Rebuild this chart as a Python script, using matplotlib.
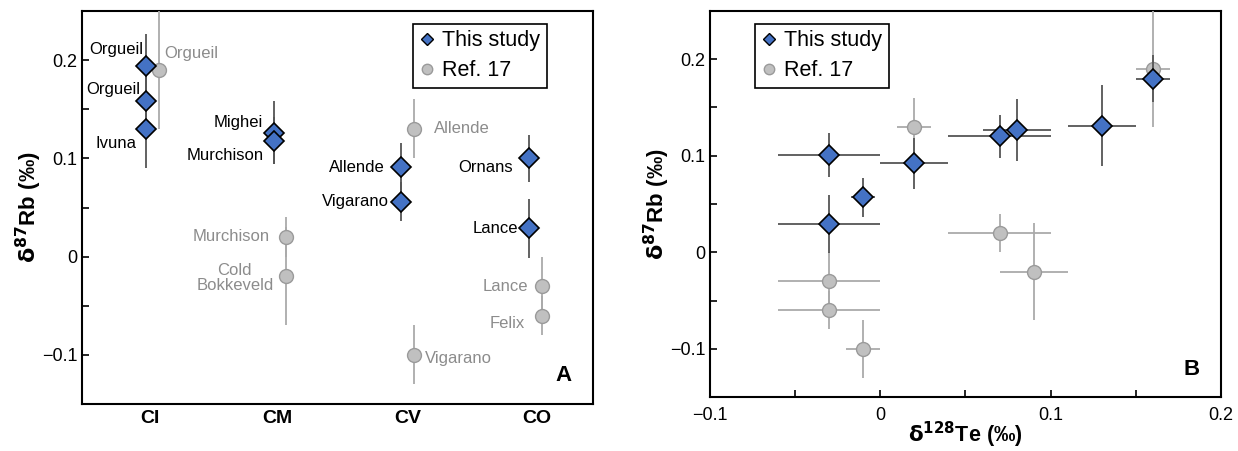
#!/usr/bin/env python3
#
# Rb vs Te isotope figure: (A) d87Rb by chondrite group, (B) d87Rb vs d128Te
#
import matplotlib
matplotlib.use('Agg')
import matplotlib.pyplot as plt
from matplotlib.lines import Line2D
from matplotlib.ticker import MultipleLocator, FuncFormatter

plt.rcParams['font.family'] = ['Liberation Sans', 'DejaVu Sans']

# ---- Data -----------------------------------------------------------------
groups = ['CI', 'CM', 'CV', 'CO']

# This study, panel A: name, group index, d87Rb, 2sd
new_names = ['Orgueil', 'Orgueil', 'Ivuna', 'Mighei', 'Murchison',
             'Allende', 'Vigarano', 'Ornans', 'Lance']
new_group = [1, 1, 1, 2, 2, 3, 3, 4, 4]
new_rb = [0.194, 0.158, 0.130, 0.126, 0.118, 0.091, 0.056, 0.100, 0.029]
new_rb_err = [0.033, 0.030, 0.040, 0.032, 0.024, 0.025, 0.020, 0.024, 0.030]

# This study, panel B
b_new_te = [0.16, 0.13, 0.08, 0.07, 0.02, -0.01, -0.03, -0.03]
b_new_te_err = [0.01, 0.02, 0.02, 0.03, 0.02, 0.007, 0.03, 0.03]
b_new_rb = [0.180, 0.131, 0.127, 0.120, 0.092, 0.057, 0.101, 0.029]
b_new_rb_err = [0.024, 0.042, 0.032, 0.022, 0.026, 0.020, 0.023, 0.030]

# Ref. 17
ref_names = ['Orgueil', 'Murchison', 'Cold\nBokkeveld', 'Allende',
             'Vigarano', 'Lance', 'Felix']
ref_group = [1, 2, 2, 3, 3, 4, 4]
ref_rb = [0.19, 0.02, -0.02, 0.13, -0.10, -0.03, -0.06]
ref_rb_err = [0.06, 0.02, 0.05, 0.03, 0.03, 0.03, 0.02]
ref_te = [0.16, 0.07, 0.09, 0.02, -0.01, -0.03, -0.03]
ref_te_err = [0.01, 0.03, 0.02, 0.01, 0.01, 0.03, 0.03]

# Label offsets (pixels) relative to each point, and alignment
new_lab = [(-3, 17, 'right'), (-6, 12, 'right'), (-9, -15, 'right'),
           (-11, 10, 'right'), (-10, -15, 'right'), (-17, 0, 'right'),
           (-12, 0, 'right'), (-16, -9, 'right'), (-11, 0, 'right')]
ref_lab = [(6, 16, 'left'), (-17, 0, 'right'), (-13, -2, 'right'),
           (20, 0, 'left'), (11, -4, 'left'), (-14, 0, 'right'),
           (-17, -8, 'right')]

# ---- Styles ---------------------------------------------------------------
blue = '#4472c4'
dark = '#555555'
light = '#aaaaaa'
cfill = '#c0c0c0'
cedge = '#9a9a9a'
new_style = dict(fmt='D', color=dark, markerfacecolor=blue,
                 markeredgecolor='k', markeredgewidth=1.2, markersize=10,
                 elinewidth=1.3, capsize=0, zorder=4)
ref_style = dict(fmt='o', color=light, markerfacecolor=cfill,
                 markeredgecolor=cedge, markeredgewidth=1.0,
                 markersize=10, elinewidth=1.3, capsize=0, zorder=3)

# Legend handles: marker only
handles = [
    Line2D([0], [0], marker='D', ls='none', markerfacecolor=blue,
           markeredgecolor='k', markeredgewidth=1.0, markersize=6.5,
           label='This study'),
    Line2D([0], [0], marker='o', ls='none', markerfacecolor=cfill,
           markeredgecolor=cedge, markeredgewidth=1.0, markersize=7.5,
           label='Ref. 17'),
]
leg_kw = dict(handles=handles, loc='upper left', fontsize=15.5,
              fancybox=False, framealpha=1, edgecolor='k',
              handlelength=0.7, handletextpad=0.35, borderpad=0.3,
              labelspacing=0.4, borderaxespad=0)

fig = plt.figure(figsize=(12.38, 4.51), dpi=100)
W, H = 1238, 451
axA = fig.add_axes([82 / W, 1 - 404 / H, (593 - 82) / W, (404 - 11) / H])
axB = fig.add_axes([710 / W, 1 - 397 / H, (1221 - 710) / W, (397 - 11) / H])

fmt = FuncFormatter(
    lambda v, p: '0' if abs(v) < 1e-9 else ('%g' % v).replace('-', '\u2212'))

for ax in (axA, axB):
    ax.set_ylim(-0.15, 0.25)
    ax.yaxis.set_major_locator(MultipleLocator(0.1))
    ax.yaxis.set_minor_locator(MultipleLocator(0.05))
    ax.yaxis.set_major_formatter(fmt)
    ax.tick_params(direction='in', which='both', labelsize=13,
                   width=1.2, length=5)
    ax.set_ylabel(r'$\mathbf{\delta^{87}}$Rb (‰)', fontsize=16,
                  fontweight='bold', labelpad=-2)
    for s in ax.spines.values():
        s.set_linewidth(1.5)

# ---- Panel A --------------------------------------------------------------
axA.set_xlim(0.5, 4.5)
axA.set_xticks([1.03, 2.03, 3.05, 4.06])
axA.set_xticklabels(groups, fontweight='bold', fontsize=14)
axA.tick_params(axis='x', which='both', length=0, pad=4)

xr = [g + 0.1 for g in ref_group]
axA.errorbar(xr, ref_rb, yerr=ref_rb_err, **ref_style)
axA.errorbar(new_group, new_rb, yerr=new_rb_err, **new_style)

for x, y, t, (dx, dy, ha) in zip(new_group, new_rb, new_names, new_lab):
    axA.annotate(t, (x, y), xytext=(dx, dy), textcoords='offset pixels',
                 ha=ha, va='center', fontsize=12, color='k', zorder=6)
for x, y, t, (dx, dy, ha) in zip(xr, ref_rb, ref_names, ref_lab):
    axA.annotate(t, (x, y), xytext=(dx, dy), textcoords='offset pixels',
                 ha=ha, va='center', fontsize=12, color='#8c8c8c',
                 multialignment='center', linespacing=1.0, zorder=6)

leg = axA.legend(bbox_to_anchor=((413 - 82) / 511, 1 - (24 - 11) / 393),
                 **leg_kw)
leg.get_frame().set_linewidth(1.2)
axA.text(0.958, 0.045, 'A', transform=axA.transAxes, ha='right',
         va='bottom', fontsize=16, fontweight='bold')

# ---- Panel B --------------------------------------------------------------
axB.set_xlim(-0.1, 0.2)
axB.xaxis.set_major_locator(MultipleLocator(0.1))
axB.xaxis.set_minor_locator(MultipleLocator(0.05))
axB.xaxis.set_major_formatter(fmt)
axB.tick_params(axis='x', pad=7)
axB.set_xlabel(r'$\mathbf{\delta^{128}}$Te (‰)', fontsize=15.5,
               fontweight='bold', labelpad=-3)

axB.errorbar(ref_te, ref_rb, xerr=ref_te_err, yerr=ref_rb_err, **ref_style)
axB.errorbar(b_new_te, b_new_rb, xerr=b_new_te_err, yerr=b_new_rb_err,
             **new_style)
leg = axB.legend(bbox_to_anchor=((755 - 710) / 511, 1 - (24 - 11) / 386),
                 **leg_kw)
leg.get_frame().set_linewidth(1.2)
axB.text(0.958, 0.045, 'B', transform=axB.transAxes, ha='right',
         va='bottom', fontsize=16, fontweight='bold')

fig.savefig('out.png', dpi=100)
